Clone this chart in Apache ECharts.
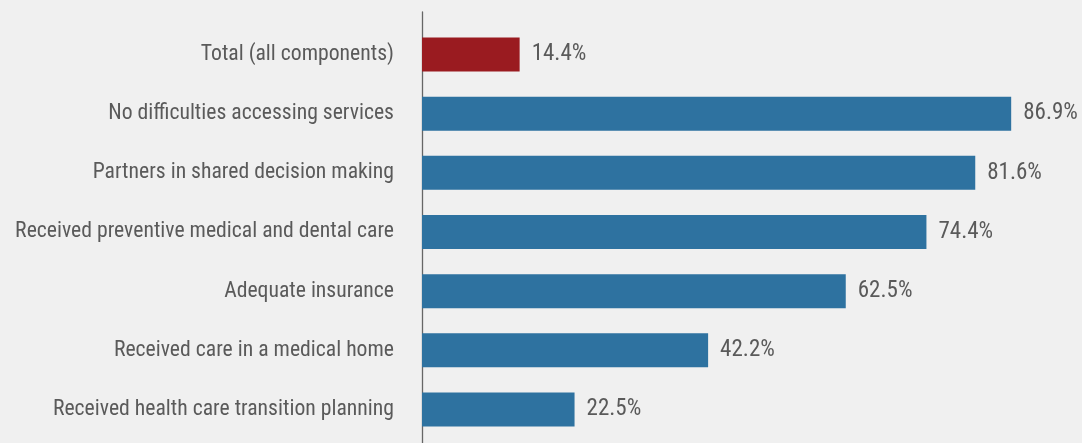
<!DOCTYPE html>
<html>
<head>
<meta charset="utf-8">
<script src="https://cdn.jsdelivr.net/npm/echarts@6/dist/echarts.min.js"></script>
<style>
html,body{margin:0;padding:0;background:#f0f0f0;}
#chart{width:1082px;height:443px;}
</style>
</head>
<body>
<div id="chart"></div>
<script>
const categories = [
  "Total (all components)",
  "No difficulties accessing services",
  "Partners in shared decision making",
  "Received preventive medical and dental care",
  "Adequate insurance",
  "Received care in a medical home",
  "Received health care transition planning"
];
const values = [14.4, 86.9, 81.6, 74.4, 62.5, 42.2, 22.5];
const highlightIndex = 0;
const FONT = '"Roboto Condensed", "Liberation Sans", sans-serif';

const chart = echarts.init(document.getElementById('chart'));
chart.setOption({
  backgroundColor: '#f0f0f0',
  animation: false,
  grid: [
    {left: 422, top: 25, height: 414, width: 678, outerBoundsMode: 'none'},
    {left: 422, top: 12, bottom: -2, width: 678, outerBoundsMode: 'none'}
  ],
  xAxis: [
    {gridIndex: 0, type: 'value', min: 0, max: 100, show: false},
    {gridIndex: 1, type: 'value', min: 0, max: 100, show: false}
  ],
  yAxis: [
    {
      gridIndex: 0, type: 'category', data: categories, inverse: true,
      axisLine: {show: false}, axisTick: {show: false}, splitLine: {show: false},
      axisLabel: {color: '#5a5a5a', fontFamily: FONT, fontSize: 21.7, margin: 28}
    },
    {
      gridIndex: 1, type: 'value', min: 0, max: 1,
      axisLine: {show: true, lineStyle: {color: '#666', width: 1.3}},
      axisTick: {show: false}, axisLabel: {show: false}, splitLine: {show: false}
    }
  ],
  series: [{
    type: 'bar',
    xAxisIndex: 0, yAxisIndex: 0,
    barWidth: 34,
    data: values.map((v, i) => ({
      value: v,
      itemStyle: {color: i === highlightIndex ? '#9a1b20' : '#2e72a0'}
    })),
    label: {
      show: true, position: 'right', distance: 12,
      color: '#5a5a5a', fontFamily: FONT, fontSize: 23,
      formatter: p => p.value.toFixed(1) + '%'
    }
  }]
});
</script>
</body>
</html>
